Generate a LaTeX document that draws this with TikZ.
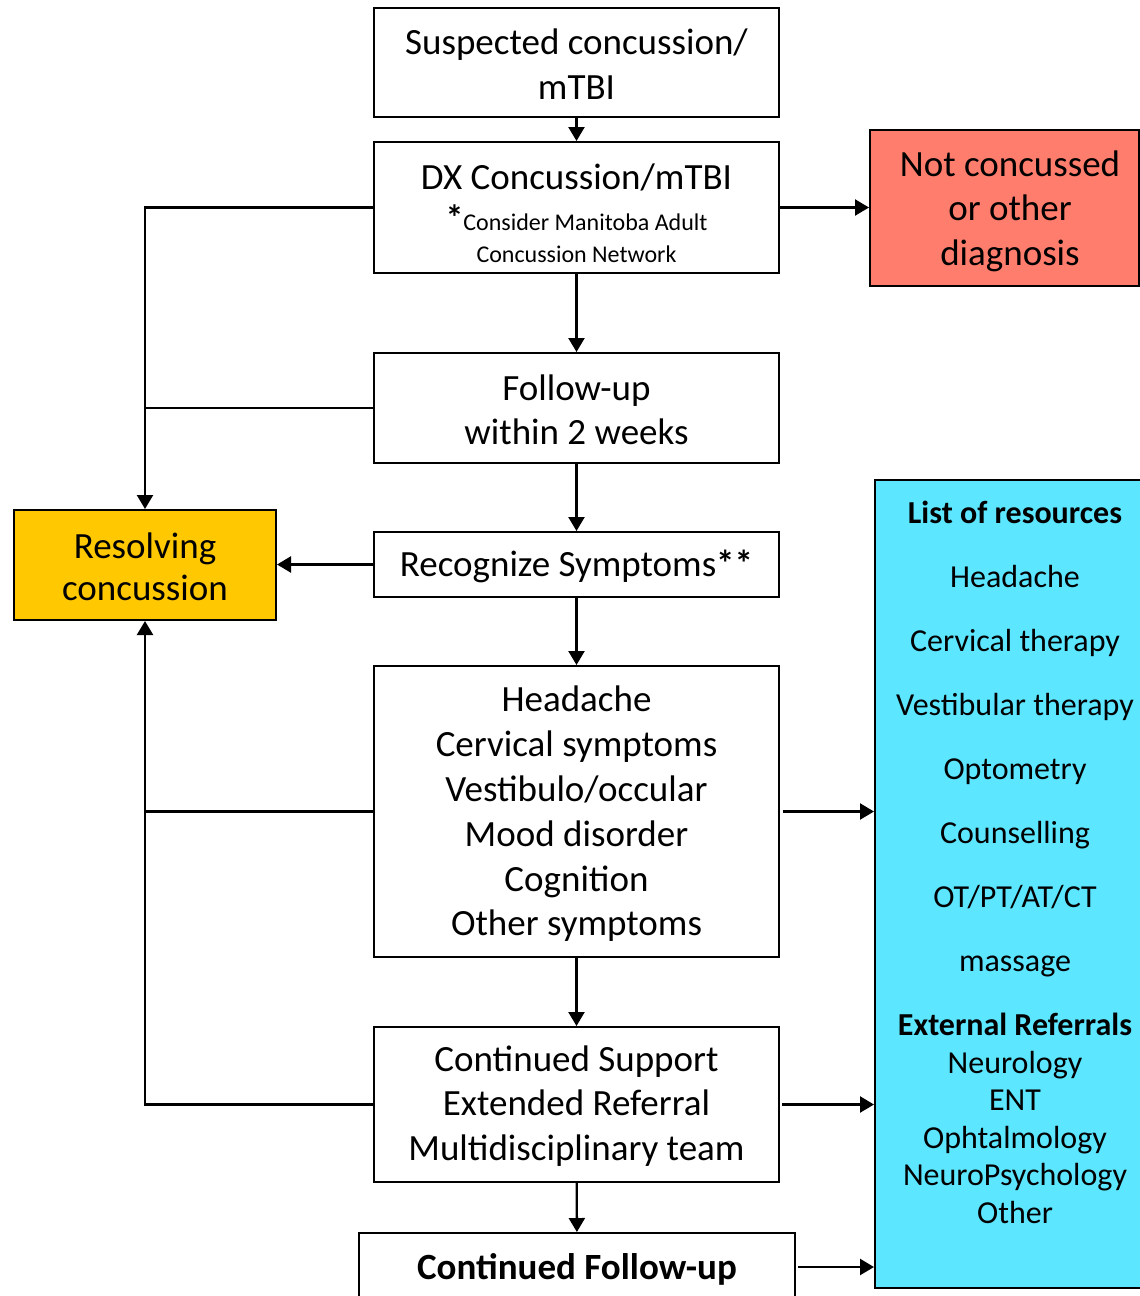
\documentclass[tikz,border=0pt]{standalone}
\usepackage{fontspec}
\setmainfont{Carlito}
\usetikzlibrary{arrows.meta}
\definecolor{salmon}{HTML}{FF7D6D}
\definecolor{gold}{HTML}{FFC800}
\definecolor{aqua}{HTML}{5CE6FF}
\begin{document}
\begin{tikzpicture}[x=1pt,y=-1pt,
  box/.style={draw, line width=2pt, align=center, inner sep=0pt, font=\fontsize{37}{44.5}\selectfont},
  txt/.style={align=center, inner sep=0pt, font=\fontsize{37}{44.5}\selectfont},
  arr/.style={line width=2.3pt, -{Triangle[length=14pt,width=16pt]}},
  ln/.style={line width=2.3pt}]
\clip (0,0) rectangle (1140,1296);
\fill[white] (0,0) rectangle (1140,1296);

\node[box, minimum width=405pt, minimum height=109pt] (sus) at (576.5,62.5) {};
\node[txt] (sust) at (576.5,64) {Suspected concussion/\\mTBI};

\node[box, minimum width=405pt, minimum height=131pt] (dx) at (576.5,207.5) {};
\node[txt] (dxt) at (576.5,177) {DX Concussion/mTBI};
\node[align=center, inner sep=0pt, font=\fontsize{24}{32}\selectfont] (dxn) at (576.5,234)
  {{\fontsize{36}{32}\selectfont\bfseries *}Consider Manitoba Adult\\Concussion Network};

\node[box, fill=salmon, minimum width=269pt, minimum height=156pt] (nc) at (1004.5,208) {};
\node[txt] (nct) at (1010,211) {Not concussed\\or other\\diagnosis};

\node[box, minimum width=405pt, minimum height=110pt] (fu) at (576.5,408) {};
\node[txt] (fut) at (576.5,410) {Follow-up\\within 2 weeks};

\node[box, minimum width=405pt, minimum height=65pt] (rec) at (576.5,564.5) {};
\node[txt] (rect) at (576.5,566) {Recognize Symptoms{\bfseries **}};

\node[box, fill=gold, minimum width=262pt, minimum height=110pt] (res) at (145,565) {};
\node[txt, font=\fontsize{37}{42}\selectfont] (rest) at (145,567) {Resolving\\concussion};

\node[box, minimum width=405pt, minimum height=291pt] (sym) at (576.5,811.5) {};
\node[txt, font=\fontsize{37}{44.8}\selectfont] (symt) at (576.5,814)
  {Headache\\Cervical symptoms\\Vestibulo/occular\\Mood disorder\\Cognition\\Other symptoms};

\node[box, minimum width=405pt, minimum height=155pt] (cs) at (576.5,1104.5) {};
\node[txt] (cst) at (576.5,1106)
  {Continued Support\\Extended Referral\\Multidisciplinary team};

\node[box, minimum width=436pt, minimum height=68pt] (cf) at (577,1267) {};
\node[txt, font=\fontsize{37}{44}\selectfont\bfseries] (cft) at (577,1269) {Continued Follow-up};

\node[box, fill=aqua, minimum width=280pt, minimum height=808pt] (rs) at (1015,884) {};
\node[align=center, inner sep=0pt, font=\fontsize{32}{37.5}\selectfont] (rst) at (1015,862.5)
  {\textbf{List of resources}\\[26.5pt]
   Headache\\[26.5pt]
   Cervical therapy\\[26.5pt]
   Vestibular therapy\\[26.5pt]
   Optometry\\[26.5pt]
   Counselling\\[26.5pt]
   OT/PT/AT/CT\\[26.5pt]
   massage\\[26.5pt]
   \textbf{External Referrals}\\
   Neurology\\ENT\\Ophtalmology\\NeuroPsychology\\Other};

\draw[arr] (sus) -- (dx);
\draw[arr] (dx.east) -- (dx.east -| nc.west);
\draw[arr] (dx) -- (fu);
\draw[arr] (fu) -- (rec);
\draw[arr] (rec.west) -- (rec.west -| res.east);
\draw[arr] (rec) -- (sym);
\draw[arr] (sym) -- (cs);
\draw[arr] (cs) -- (cf);
\draw[arr] ([xshift=3pt]sym.east) -- (sym.east -| rs.west);
\draw[arr] ([xshift=2pt]cs.east) -- (cs.east -| rs.west);
\draw[arr] ([xshift=2pt]cf.east) -- (cf.east -| rs.west);
\draw[arr] (dx.west) -| (res.north);
\draw[ln] (fu.west) -- (fu.west -| res.north);
\draw[arr] (sym.west) -| (res.south);
\draw[ln] (cs.west) -| (sym.west -| res.south);
\end{tikzpicture}
\end{document}
